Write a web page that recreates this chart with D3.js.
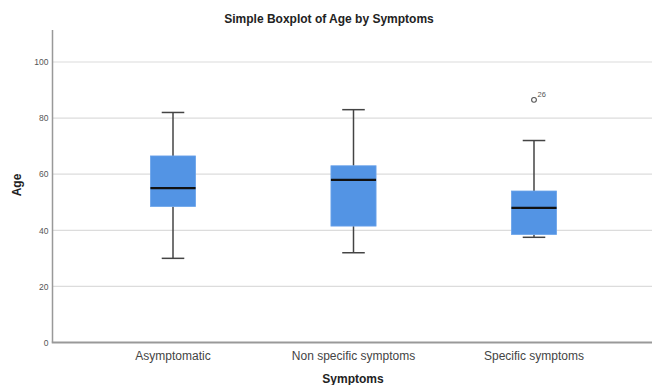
<!DOCTYPE html>
<html>
<head>
<meta charset="utf-8">
<script src="https://cdn.jsdelivr.net/npm/d3@7"></script>
<style>
html,body{margin:0;padding:0;background:#fff;}
svg{display:block;}
</style>
</head>
<body>
<svg id="chart" width="652" height="385"></svg>
<script>
const categories = ["Asymptomatic", "Non specific symptoms", "Specific symptoms"];
const whiskerLow = [30, 32, 37.5];
const q1 = [48.5, 41.5, 38.5];
const median = [55, 58, 48];
const q3 = [66.5, 63, 54];
const whiskerHigh = [82, 83, 72];
const outlierCategory = ["Specific symptoms"];
const outlierValue = [86.5];
const outlierLabel = ["26"];
const yTicks = [0, 20, 40, 60, 80, 100];

const svg = d3.select("#chart");
const plotLeft = 52.5, plotRight = 654.5, plotTop = 30, plotBottom = 342.5;

const x = d3.scaleBand().domain(categories).range([plotLeft, plotRight]).paddingInner(0).paddingOuter(0.1676);
const y = d3.scaleLinear().domain([0, 111.4]).range([plotBottom, plotTop]);

// gridlines
svg.append("g").selectAll("line").data(yTicks.filter(d => d > 0)).join("line")
  .attr("x1", plotLeft).attr("x2", 652)
  .attr("y1", d => y(d)).attr("y2", d => y(d))
  .attr("stroke", "#dcdcdc").attr("stroke-width", 1.2);

// y axis
const yAxis = svg.append("g").attr("transform", `translate(${plotLeft},0)`)
  .call(d3.axisLeft(y).tickValues(yTicks).tickSize(0).tickPadding(4));
yAxis.select(".domain").remove();
yAxis.selectAll("text").attr("font-family", "Liberation Sans, Arial, sans-serif")
  .attr("font-size", 8.5).attr("fill", "#555");
svg.append("line").attr("x1", plotLeft).attr("x2", plotLeft).attr("y1", plotTop).attr("y2", plotBottom)
  .attr("stroke", "#999").attr("stroke-width", 1.5);

// x axis
const xAxis = svg.append("g").attr("transform", `translate(0,${plotBottom})`)
  .call(d3.axisBottom(x).tickSize(0).tickPadding(9));
xAxis.select(".domain").remove();
xAxis.selectAll("text").attr("font-family", "Liberation Sans, Arial, sans-serif")
  .attr("font-size", 12).attr("fill", "#444");
svg.append("line").attr("x1", plotLeft - 0.75).attr("x2", 652).attr("y1", plotBottom).attr("y2", plotBottom)
  .attr("stroke", "#999").attr("stroke-width", 1.8);

// boxes
const idx = d3.range(categories.length);
const cx = i => x(categories[i]) + x.bandwidth() / 2;
const boxW = x.bandwidth() * 0.25;
const capW = x.bandwidth() * 0.125;
const g = svg.append("g");
g.selectAll(".wh").data(idx).join("line")
  .attr("x1", cx).attr("x2", cx)
  .attr("y1", i => y(whiskerHigh[i])).attr("y2", i => y(q3[i]))
  .attr("stroke", "#444").attr("stroke-width", 1.5);
g.selectAll(".wl").data(idx).join("line")
  .attr("x1", cx).attr("x2", cx)
  .attr("y1", i => y(q1[i])).attr("y2", i => y(whiskerLow[i]))
  .attr("stroke", "#444").attr("stroke-width", 1.5);
g.selectAll(".ch").data(idx).join("line")
  .attr("x1", i => cx(i) - capW / 2).attr("x2", i => cx(i) + capW / 2)
  .attr("y1", i => y(whiskerHigh[i])).attr("y2", i => y(whiskerHigh[i]))
  .attr("stroke", "#444").attr("stroke-width", 1.5);
g.selectAll(".cl").data(idx).join("line")
  .attr("x1", i => cx(i) - capW / 2).attr("x2", i => cx(i) + capW / 2)
  .attr("y1", i => y(whiskerLow[i])).attr("y2", i => y(whiskerLow[i]))
  .attr("stroke", "#444").attr("stroke-width", 1.5);
g.selectAll(".box").data(idx).join("rect")
  .attr("x", i => cx(i) - boxW / 2).attr("width", boxW)
  .attr("y", i => y(q3[i])).attr("height", i => y(q1[i]) - y(q3[i]))
  .attr("fill", "#5394e4").attr("stroke", "#6aa3ea").attr("stroke-width", 0.8);
g.selectAll(".med").data(idx).join("line")
  .attr("x1", i => cx(i) - boxW / 2).attr("x2", i => cx(i) + boxW / 2)
  .attr("y1", i => y(median[i])).attr("y2", i => y(median[i]))
  .attr("stroke", "#111").attr("stroke-width", 2.2);

// outliers
const oi = d3.range(outlierValue.length);
g.selectAll(".out").data(oi).join("circle")
  .attr("cx", i => x(outlierCategory[i]) + x.bandwidth() / 2)
  .attr("cy", i => y(outlierValue[i]))
  .attr("r", 2.4).attr("fill", "#fff").attr("stroke", "#555").attr("stroke-width", 1.1);
g.selectAll(".outl").data(oi).join("text")
  .attr("x", i => x(outlierCategory[i]) + x.bandwidth() / 2 + 3.5)
  .attr("y", i => y(outlierValue[i]) - 3)
  .attr("font-family", "Liberation Sans, Arial, sans-serif").attr("font-size", 7.5).attr("fill", "#555")
  .text(i => outlierLabel[i]);

// titles
svg.append("text").attr("x", 329).attr("y", 23).attr("text-anchor", "middle")
  .attr("font-family", "Liberation Sans, Arial, sans-serif").attr("font-size", 12).attr("font-weight", "bold")
  .attr("fill", "#222").text("Simple Boxplot of Age by Symptoms");
svg.append("text").attr("x", 353).attr("y", 383).attr("text-anchor", "middle")
  .attr("font-family", "Liberation Sans, Arial, sans-serif").attr("font-size", 12).attr("font-weight", "bold")
  .attr("fill", "#222").text("Symptoms");
svg.append("text").attr("transform", "translate(21,185) rotate(-90)").attr("text-anchor", "middle")
  .attr("font-family", "Liberation Sans, Arial, sans-serif").attr("font-size", 12).attr("font-weight", "bold")
  .attr("fill", "#222").text("Age");
</script>
</body>
</html>
